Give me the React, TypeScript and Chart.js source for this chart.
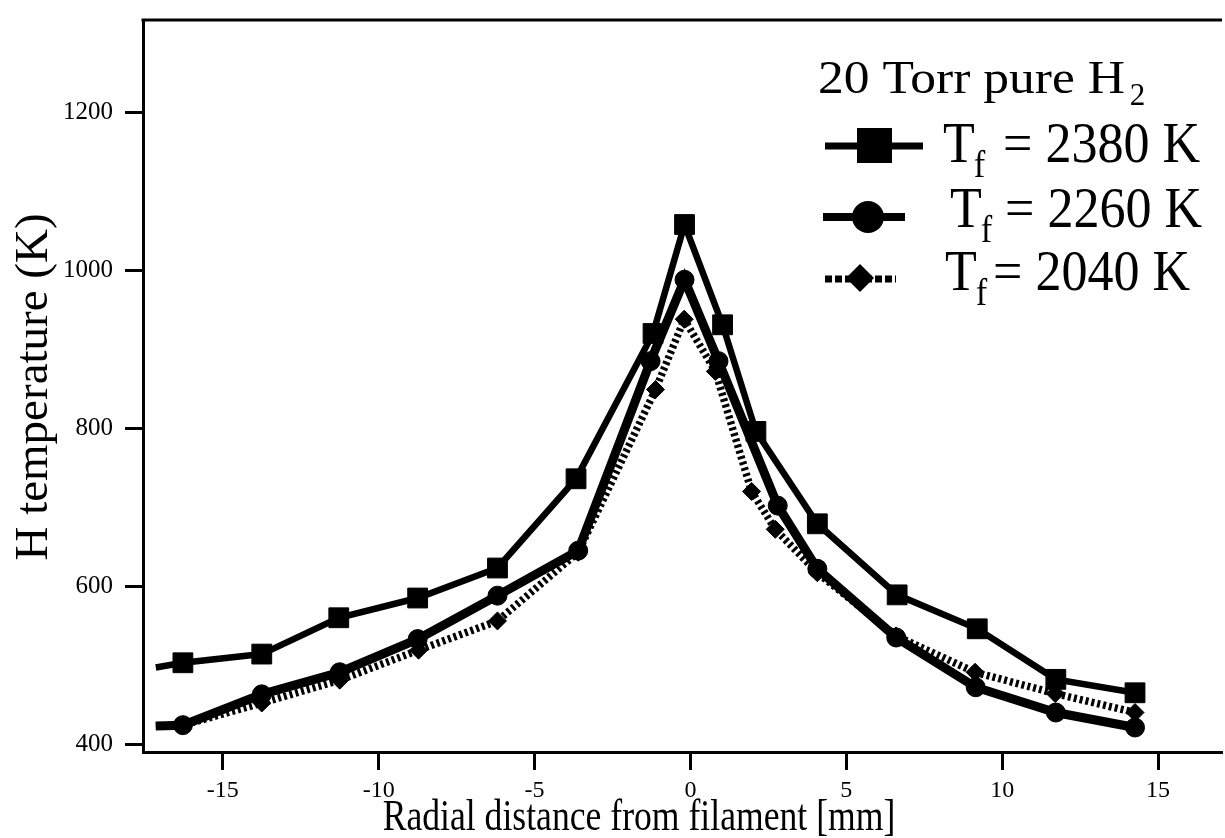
import React, { useEffect, useRef } from "react";
import { Chart, registerables } from "chart.js";

Chart.register(...registerables);

// ---- data ----
const xTickValues = [-15, -10, -5, 0, 5, 10, 15];
const yTickValues = [400, 600, 800, 1000, 1200];

const legendTitle = "20 Torr pure H";
const legendTitleSub = "2";
const seriesLabels = ["2380 K", "2260 K", "2040 K"];

// T_f = 2380 K (squares)
const xHot = [-17.15, -16.28, -13.75, -11.28, -8.75, -6.19, -3.67, -1.2, -0.19, 1.03, 2.1, 4.07, 6.63, 9.2, 11.72, 14.26];
const tHot = [497, 503, 514, 560, 585, 623, 736, 920, 1058, 931, 796, 679, 589, 546, 482, 465];

// T_f = 2260 K (circles)
const xMid = [-17.15, -16.28, -13.75, -11.25, -8.75, -6.19, -3.6, -1.28, -0.19, 0.9, 2.8, 4.07, 6.6, 9.15, 11.72, 14.26];
const tMid = [423, 424, 463, 491, 533, 588, 645, 885, 988, 885, 702, 622, 535, 472, 440, 421];

// T_f = 2040 K (diamonds, dotted)
const xCool = [-17.15, -16.28, -13.75, -11.25, -8.72, -6.19, -3.6, -1.12, -0.2, 0.8, 1.96, 2.72, 4.07, 6.6, 9.13, 11.7, 14.26];
const tCool = [423, 424, 452, 481, 519, 556, 643, 849, 938, 872, 720, 672, 617, 537, 491, 464, 440];

const FONT = "'Liberation Serif', 'Times New Roman', serif";

function drawText(
  ctx: CanvasRenderingContext2D,
  text: string,
  x: number,
  y: number,
  size: number,
  sx: number,
  align: CanvasTextAlign = "left"
): number {
  ctx.save();
  ctx.font = `${size}px ${FONT}`;
  ctx.textAlign = align;
  ctx.textBaseline = "alphabetic";
  ctx.translate(x, y);
  ctx.scale(sx, 1);
  ctx.fillText(text, 0, 0);
  const w = ctx.measureText(text).width * sx;
  ctx.restore();
  return w;
}

const decorPlugin = {
  id: "decor",
  afterDraw(chart: any) {
    const ctx: CanvasRenderingContext2D = chart.ctx;
    const a = chart.chartArea;
    ctx.save();
    ctx.fillStyle = "#000";
    ctx.strokeStyle = "#000";

    // top frame line
    ctx.lineWidth = 3;
    ctx.beginPath();
    ctx.moveTo(a.left - 1.5, a.top);
    ctx.lineTo(a.right, a.top);
    ctx.stroke();

    // axis titles
    drawText(ctx, "Radial distance from filament [mm]", 639, 830, 44, 0.81, "center");
    ctx.save();
    ctx.translate(47, 387);
    ctx.rotate(-Math.PI / 2);
    ctx.font = `47px ${FONT}`;
    ctx.textAlign = "center";
    ctx.textBaseline = "alphabetic";
    ctx.fillText("H temperature (K)", 0, 0);
    ctx.restore();

    // legend title
    const tw = drawText(ctx, legendTitle, 818, 93, 46, 1.12);
    drawText(ctx, legendTitleSub, 818 + tw + 5, 105, 31, 1.0);

    // legend samples
    ctx.setLineDash([]);
    ctx.lineCap = "butt";
    // row 1: square
    ctx.lineWidth = 7;
    ctx.beginPath();
    ctx.moveTo(825, 146);
    ctx.lineTo(923, 146);
    ctx.stroke();
    ctx.fillRect(857, 128, 35, 35);
    // row 2: circle
    ctx.lineWidth = 8;
    ctx.beginPath();
    ctx.moveTo(823, 217);
    ctx.lineTo(905, 217);
    ctx.stroke();
    ctx.beginPath();
    ctx.arc(868, 217, 16, 0, Math.PI * 2);
    ctx.fill();
    // row 3: dotted + diamond
    ctx.lineWidth = 7;
    ctx.setLineDash([7, 3]);
    ctx.beginPath();
    ctx.moveTo(825, 279);
    ctx.lineTo(896, 279);
    ctx.stroke();
    ctx.setLineDash([]);
    ctx.beginPath();
    ctx.moveTo(860, 264);
    ctx.lineTo(874, 278);
    ctx.lineTo(860, 292);
    ctx.lineTo(846, 278);
    ctx.closePath();
    ctx.fill();

    // legend texts: T_f = ...
    const rows = [
      { tx: 943, base: 162, eq: 1003, label: seriesLabels[0] },
      { tx: 950, base: 227, eq: 1005, label: seriesLabels[1] },
      { tx: 945, base: 290, eq: 993, label: seriesLabels[2] },
    ];
    rows.forEach((r) => {
      const w = drawText(ctx, "T", r.tx, r.base, 56, 0.93);
      drawText(ctx, "f", r.tx + w - 1, r.base + 15, 37, 0.93);
      drawText(ctx, "= " + r.label, r.eq, r.base, 56, 0.93);
    });

    ctx.restore();
  },
};

export default function App() {
  const ref = useRef<HTMLCanvasElement>(null);

  useEffect(() => {
    const canvas = ref.current;
    if (!canvas) return;
    const toPts = (xs: number[], ys: number[]) => xs.map((x, i) => ({ x, y: ys[i] }));
    const radii = (n: number, r: number) => Array.from({ length: n }, (_, i) => (i === 0 ? 0 : r));

    const common = {
      borderColor: "#000",
      backgroundColor: "#000",
      pointBackgroundColor: "#000",
      pointBorderColor: "#000",
      pointBorderWidth: 1,
      tension: 0,
      fill: false,
      borderCapStyle: "butt",
      borderJoinStyle: "miter",
    };

    const chart = new Chart(canvas, {
      type: "line",
      data: {
        datasets: [
          {
            ...common,
            label: "Tf = " + seriesLabels[2],
            data: toPts(xCool, tCool),
            borderWidth: 7.5,
            borderDash: [3, 3],
            pointStyle: "rectRot",
            pointRadius: radii(xCool.length, 9),
          },
          {
            ...common,
            label: "Tf = " + seriesLabels[1],
            data: toPts(xMid, tMid),
            borderWidth: 9,
            pointStyle: "circle",
            pointRadius: radii(xMid.length, 9.5),
          },
          {
            ...common,
            label: "Tf = " + seriesLabels[0],
            data: toPts(xHot, tHot),
            borderWidth: 6.5,
            pointStyle: "rect",
            pointRadius: radii(xHot.length, 14),
          },
        ] as any,
      },
      options: {
        responsive: false,
        animation: false,
        devicePixelRatio: 1,
        layout: { autoPadding: false, padding: { top: 20, right: 3, left: 0, bottom: 0 } },
        plugins: {
          legend: { display: false },
          tooltip: { enabled: false },
          title: { display: false },
        },
        scales: {
          x: {
            type: "linear",
            min: -17.56,
            max: 17.05,
            afterBuildTicks: (s: any) => {
              s.ticks = xTickValues.map((v) => ({ value: v }));
            },
            afterFit: (s: any) => {
              s.height = 838 - 752;
              s.paddingLeft = 0;
              s.paddingRight = 0;
              s.paddingTop = 0;
              s.paddingBottom = 0;
            },
            grid: {
              drawOnChartArea: false,
              drawTicks: true,
              tickLength: 18,
              tickWidth: 3,
              tickColor: "#000",
            },
            border: { display: true, color: "#000", width: 3 },
            ticks: {
              color: "#000",
              font: { family: FONT, size: 24 },
              padding: 6,
              maxRotation: 0,
              autoSkip: false,
              callback: (v: any) => String(v),
            },
          },
          y: {
            type: "linear",
            min: 390,
            max: 1317,
            afterBuildTicks: (s: any) => {
              s.ticks = yTickValues.map((v) => ({ value: v }));
            },
            afterFit: (s: any) => {
              s.width = 143;
              s.paddingTop = 0;
              s.paddingBottom = 0;
              s.paddingLeft = 0;
              s.paddingRight = 0;
            },
            grid: {
              drawOnChartArea: false,
              drawTicks: true,
              tickLength: 18,
              tickWidth: 3,
              tickColor: "#000",
            },
            border: { display: true, color: "#000", width: 3 },
            ticks: {
              color: "#000",
              font: { family: FONT, size: 25 },
              padding: 12,
              autoSkip: false,
              callback: (v: any) => String(v),
            },
          },
        },
      } as any,
      plugins: [decorPlugin],
    });

    return () => chart.destroy();
  }, []);

  return (
    <div style={{ position: "absolute", left: 0, top: 0, width: 1225, height: 838, background: "#fff" }}>
      <canvas ref={ref} width={1225} height={838} style={{ display: "block" }} />
    </div>
  );
}
